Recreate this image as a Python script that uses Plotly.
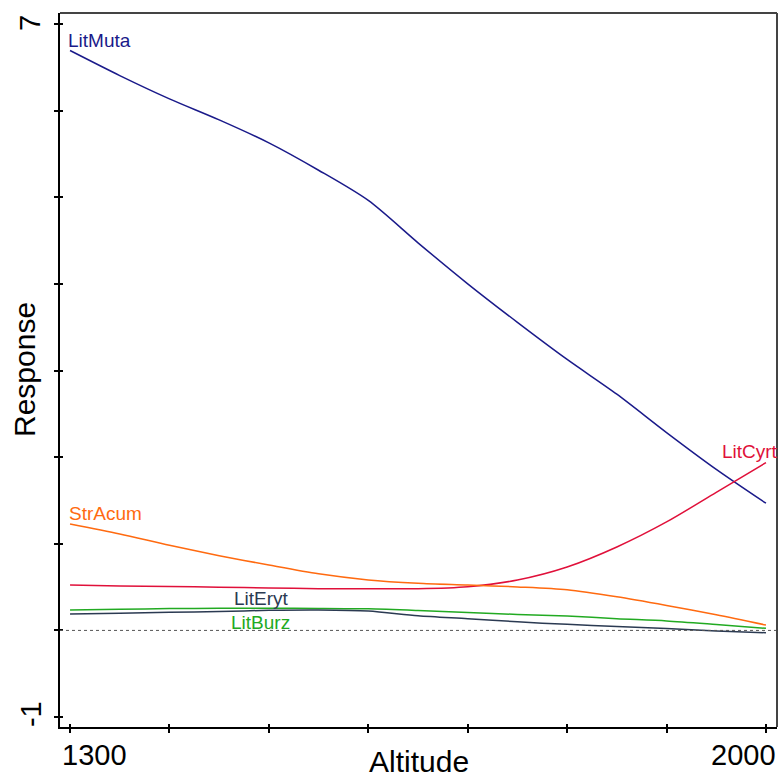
import plotly.graph_objects as go

altitude = [1300, 1350, 1400, 1450, 1500, 1550, 1600, 1650, 1700, 1750, 1800, 1850, 1900, 1950, 2000]
lit_muta = [6.694, 6.405, 6.136, 5.893, 5.628, 5.312, 4.963, 4.474, 4.001, 3.556, 3.128, 2.727, 2.284, 1.859, 1.468]
lit_cyrt = [0.524, 0.513, 0.507, 0.499, 0.490, 0.482, 0.482, 0.482, 0.505, 0.582, 0.732, 0.963, 1.252, 1.594, 1.937]
str_acum = [1.229, 1.114, 0.983, 0.863, 0.755, 0.654, 0.583, 0.545, 0.524, 0.502, 0.469, 0.388, 0.288, 0.181, 0.062]
lit_burz = [0.236, 0.244, 0.252, 0.255, 0.255, 0.254, 0.249, 0.230, 0.207, 0.184, 0.166, 0.135, 0.109, 0.068, 0.024]
lit_eryt = [0.189, 0.199, 0.209, 0.218, 0.232, 0.236, 0.224, 0.169, 0.135, 0.099, 0.070, 0.045, 0.022, -0.007, -0.027]

x_ticks = [1300, 1400, 1500, 1600, 1700, 1800, 1900, 2000]
y_ticks = [-1, 0, 1, 2, 3, 4, 5, 6, 7]

series = [
    ("LitMuta", lit_muta, "#1a1a8a", 1295.7, 6.815),
    ("LitCyrt", lit_cyrt, "#e0103a", 1953.7, 2.06),
    ("StrAcum", str_acum, "#ff6a10", 1297.3, 1.348),
    ("LitBurz", lit_burz, "#22aa22", 1459.9, 0.097),
    ("LitEryt", lit_eryt, "#2b3a52", 1463.2, 0.365),
]

FONT = "Liberation Sans, Arial, sans-serif"
XR = [1289.9, 2011.1]
YR = [-1.115, 7.127]

fig = go.Figure()
for name, vals, color, lx, ly in series:
    fig.add_trace(go.Scatter(x=altitude, y=vals, mode="lines", name=name,
                             line=dict(color=color, width=1.5, shape="spline", smoothing=0.8),
                             showlegend=False, hoverinfo="skip"))
    fig.add_annotation(x=lx, y=ly, text=name, showarrow=False, xanchor="left",
                       yanchor="middle", font=dict(family=FONT, size=19, color=color))

# dummy trace for overlay axes (inside tick halves)
fig.add_trace(go.Scatter(x=[None], y=[None], xaxis="x2", yaxis="y2",
                         showlegend=False, hoverinfo="skip"))

fig.update_layout(
    width=783, height=778,
    margin=dict(l=60, r=6, t=13, b=51),
    paper_bgcolor="white", plot_bgcolor="white",
    xaxis=dict(range=XR, tickvals=x_ticks, ticktext=[""] * len(x_ticks),
               ticks="outside", ticklen=4, tickwidth=1.5, tickcolor="black",
               showline=True, linecolor="black", linewidth=2, showgrid=False,
               zeroline=False, fixedrange=True),
    yaxis=dict(range=YR, tickvals=y_ticks, ticktext=[""] * len(y_ticks),
               ticks="outside", ticklen=4, tickwidth=1.5, tickcolor="black",
               showline=True, linecolor="black", linewidth=2, showgrid=False,
               zeroline=False, fixedrange=True),
    xaxis2=dict(range=XR, overlaying="x", anchor="y2", side="bottom",
                tickvals=x_ticks, ticktext=[""] * len(x_ticks), ticks="inside",
                ticklen=3, tickwidth=1.5, tickcolor="black", showline=False,
                showgrid=False, zeroline=False, fixedrange=True),
    yaxis2=dict(range=YR, overlaying="y", anchor="x2", side="left",
                tickvals=y_ticks, ticktext=[""] * len(y_ticks), ticks="inside",
                ticklen=3, tickwidth=1.5, tickcolor="black", showline=False,
                showgrid=False, zeroline=False, fixedrange=True),
)

# zero reference line
fig.add_shape(type="line", xref="paper", yref="y", x0=0, x1=1, y0=0, y1=0,
              line=dict(color="#555555", width=1, dash="dot"))
# top and right frame
fig.add_shape(type="line", xref="paper", yref="paper", x0=0, x1=1, y0=1, y1=1,
              line=dict(color="#444444", width=2))
fig.add_shape(type="line", xref="paper", yref="paper", x0=1, x1=1, y0=0, y1=1,
              line=dict(color="#444444", width=2))

# tick labels
fig.add_annotation(x=1300, y=0, xref="x", yref="paper", text="1300", showarrow=False,
                   xanchor="left", yanchor="middle", xshift=-10, yshift=-28,
                   font=dict(family=FONT, size=29, color="black"))
fig.add_annotation(x=2000, y=0, xref="x", yref="paper", text="2000", showarrow=False,
                   xanchor="right", yanchor="middle", xshift=12, yshift=-28,
                   font=dict(family=FONT, size=29, color="black"))
fig.add_annotation(x=0, y=7, xref="paper", yref="y", text="7", showarrow=False,
                   xanchor="center", yanchor="middle", xshift=-30, yshift=1,
                   textangle=-90, font=dict(family=FONT, size=29, color="black"))
fig.add_annotation(x=0, y=-1, xref="paper", yref="y", text="-1", showarrow=False,
                   xanchor="center", yanchor="middle", xshift=-29, yshift=3,
                   textangle=-90, font=dict(family=FONT, size=29, color="black"))

# axis titles
fig.add_annotation(x=0.5, y=0, xref="paper", yref="paper", text="Altitude", showarrow=False,
                   xanchor="center", yanchor="middle", yshift=-34,
                   font=dict(family=FONT, size=30, color="black"))
fig.add_annotation(x=0, y=0.5, xref="paper", yref="paper", text="Response", showarrow=False,
                   xanchor="center", yanchor="middle", xshift=-36, textangle=-90,
                   font=dict(family=FONT, size=30, color="black"))

fig.write_html("out.html", config={"displayModeBar": False},
               post_script="document.body.style.margin='0';document.body.style.padding='0';"
                           "document.body.style.overflow='hidden';")
